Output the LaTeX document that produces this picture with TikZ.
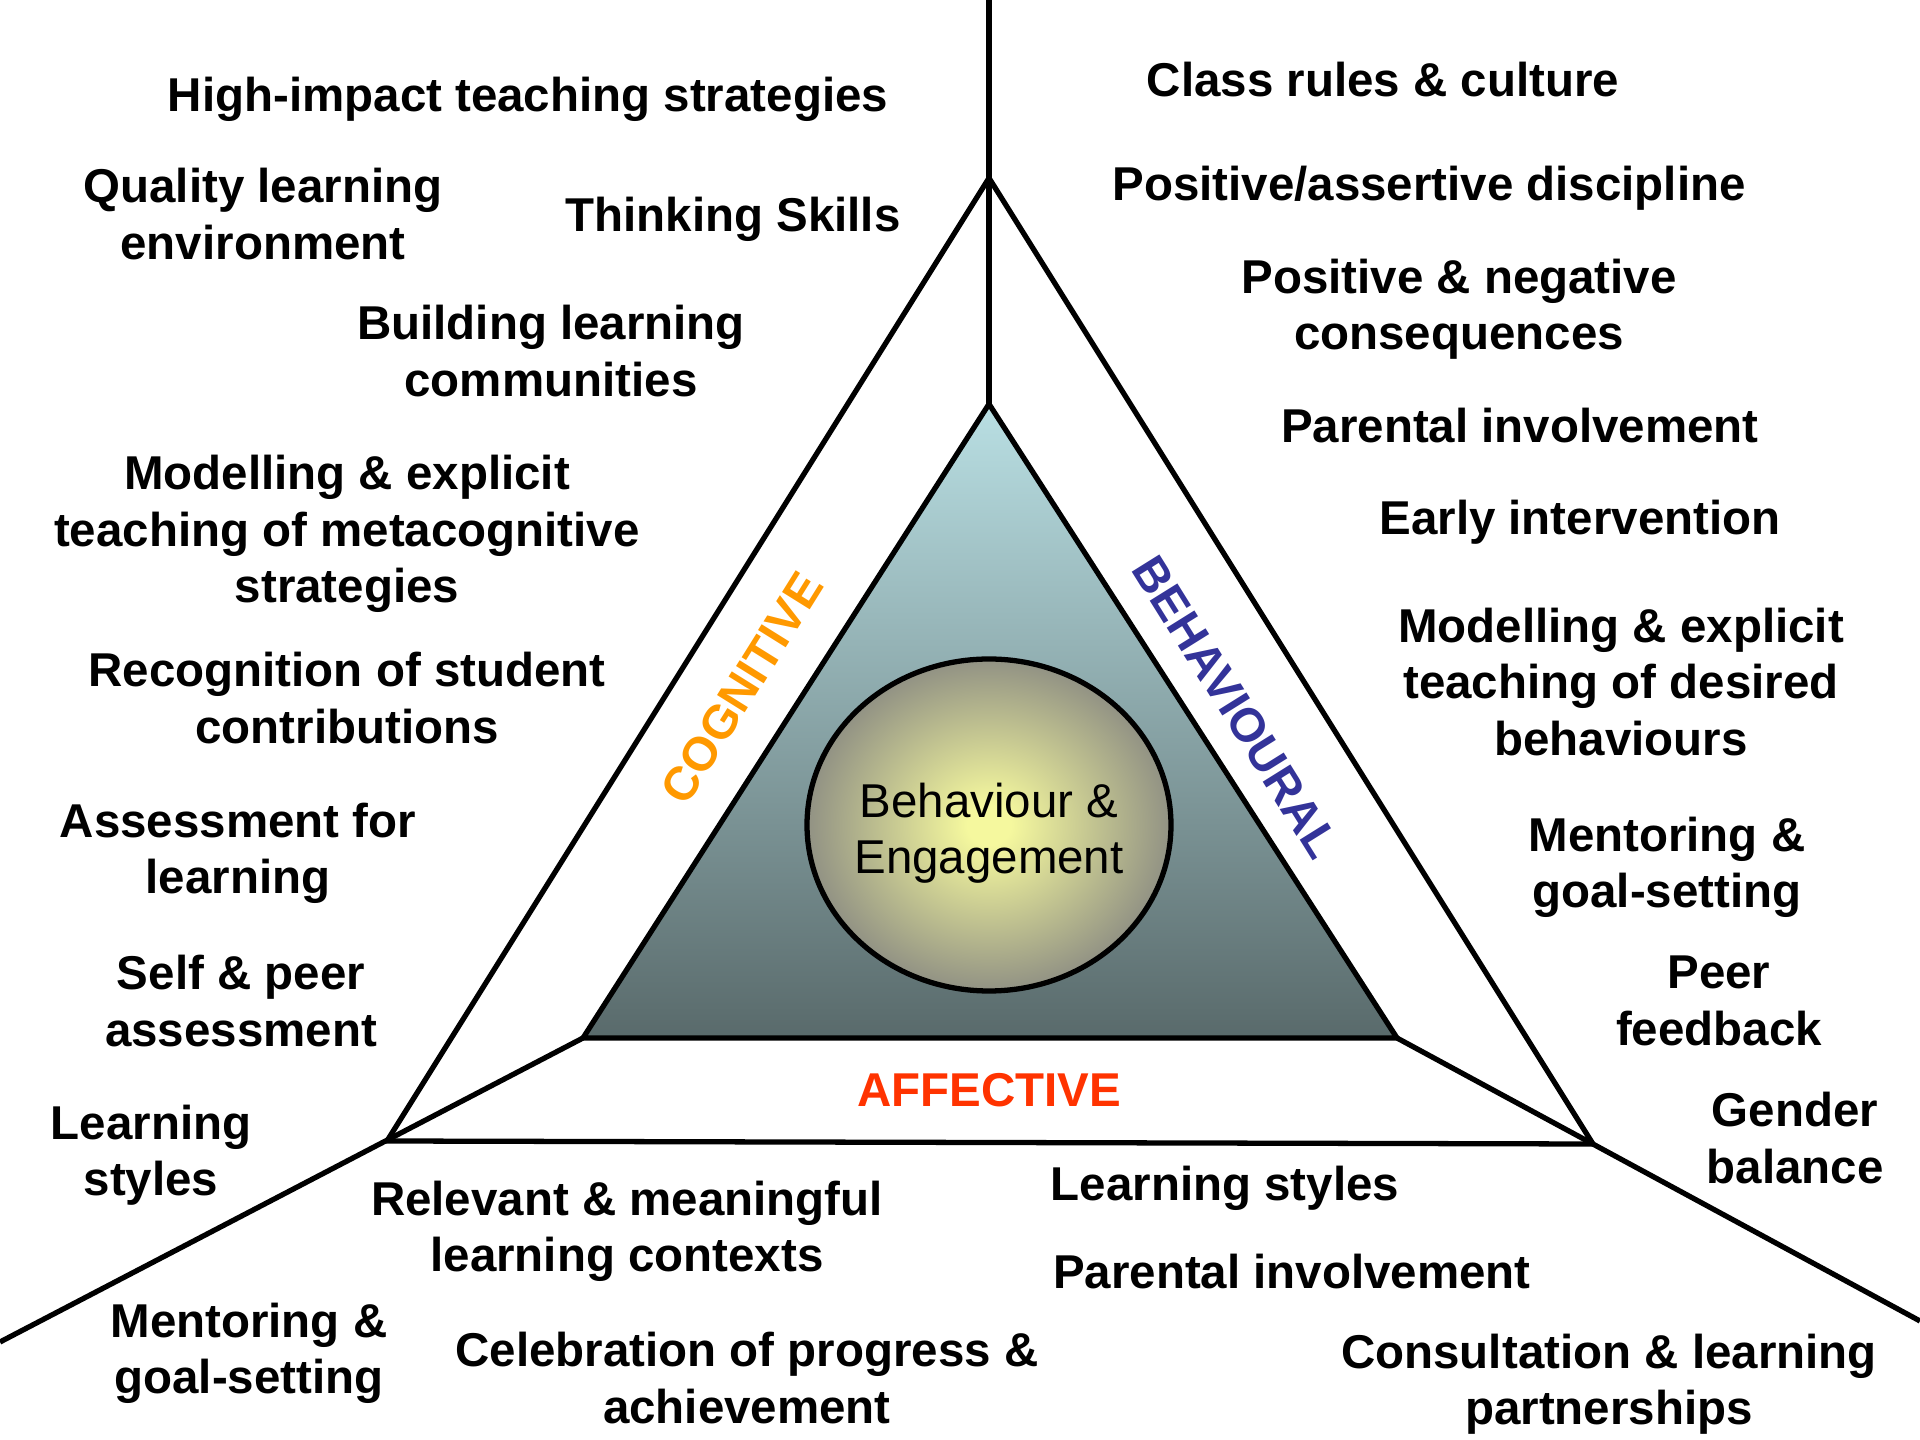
\documentclass[tikz,border=0pt]{standalone}
\usepackage{fontspec}
\setmainfont{Liberation Sans}
\definecolor{cogn}{HTML}{FF9900}
\definecolor{behav}{HTML}{333399}
\definecolor{affect}{HTML}{FF3300}
\definecolor{coretop}{HTML}{B9DFE3}
\definecolor{corebot}{HTML}{596A6B}
\definecolor{glowin}{HTML}{F5F89E}
\definecolor{glowout}{HTML}{7F7F7F}
\pgfdeclareradialshading{glow}{\pgfpoint{0bp}{0bp}}{color(0bp)=(glowin); color(3bp)=(glowin); color(29bp)=(glowout); color(50bp)=(glowout)}
\begin{document}
\begin{tikzpicture}[x=0.01cm,y=-0.01cm,line width=1.5pt,
    item/.style={font=\fontsize{13.5}{16}\selectfont\bfseries,align=center,inner sep=0pt},
    side/.style={item,text=#1},
    coretext/.style={align=center,inner sep=0pt,font=\fontsize{13.5}{16}\selectfont}]
    \useasboundingbox (0,0) rectangle (1920,1440);
    \coordinate (top) at (989,0);
    \coordinate (oa) at (989,178);
    \coordinate (ol) at (387,1141);
    \coordinate (or) at (1593,1144);
    \coordinate (ia) at (989,404);
    \coordinate (il) at (583,1038);
    \coordinate (ir) at (1397,1038);
    \coordinate (le) at (0,1342);
    \coordinate (re) at (1920,1321);
    \coordinate (mid) at (989,825);
    \shade[top color=coretop,bottom color=corebot] (ia) -- (il) -- (ir) -- cycle;
    \draw (ia) -- (il) -- (ir) -- cycle;
    \draw (oa) -- (ol) -- (or) -- cycle;
    \draw (top) -- (ia);
    \draw (il) -- (le);
    \draw (ir) -- (re);
    \shade[shading=glow] (mid) ellipse [x radius=182,y radius=166];
    \draw (mid) ellipse [x radius=182,y radius=166];
    \node[coretext] (core) at (989,833) {Behaviour \&\\Engagement};
    \node[side=cogn,rotate=58] (cog) at (742,688) {COGNITIVE};
    \node[side=behav,rotate=-58] (beh) at (1236,707) {BEHAVIOURAL};
    \node[side=affect] (aff) at (989,1090) {AFFECTIVE};
    \node[item] (hits) at (528,99) {High-impact teaching strategies};
    \node[item] (qle) at (263,214) {Quality learning\\environment};
    \node[item] (think) at (733,219) {Thinking Skills};
    \node[item] (blc) at (551,351) {Building learning\\communities};
    \node[item] (metacog) at (347,534) {Modelling \& explicit\\teaching of metacognitive\\strategies};
    \node[item] (recog) at (347,698) {Recognition of student\\contributions};
    \node[item] (afl) at (238,853) {Assessment for\\learning};
    \node[item] (selfpeer) at (241,1001) {Self \& peer\\assessment};
    \node[item] (lstyl) at (151,1155) {Learning\\styles};
    \node[item] (mentl) at (249,1353) {Mentoring \&\\goal-setting};
    \node[item] (relev) at (627,1231) {Relevant \& meaningful\\learning contexts};
    \node[item] (celeb) at (747,1378) {Celebration of progress \&\\achievement};
    \node[item] (lstyb) at (1225,1188) {Learning styles};
    \node[item] (parb) at (1292,1272) {Parental involvement};
    \node[item] (consult) at (1609,1384) {Consultation \& learning\\partnerships};
    \node[item] (rules) at (1383,80) {Class rules \& culture};
    \node[item] (discip) at (1429,188) {Positive/assertive discipline};
    \node[item] (conseq) at (1459,309) {Positive \& negative\\consequences};
    \node[item] (parr) at (1520,426) {Parental involvement};
    \node[item] (early) at (1580,522) {Early intervention};
    \node[item] (desired) at (1621,682) {Modelling \& explicit\\teaching of desired\\behaviours};
    \node[item] (mentr) at (1667,867) {Mentoring \&\\goal-setting};
    \node[item] (peer) at (1719,1001) {Peer\\feedback};
    \node[item] (gender) at (1795,1138) {Gender\\balance};
\end{tikzpicture}
\end{document}
